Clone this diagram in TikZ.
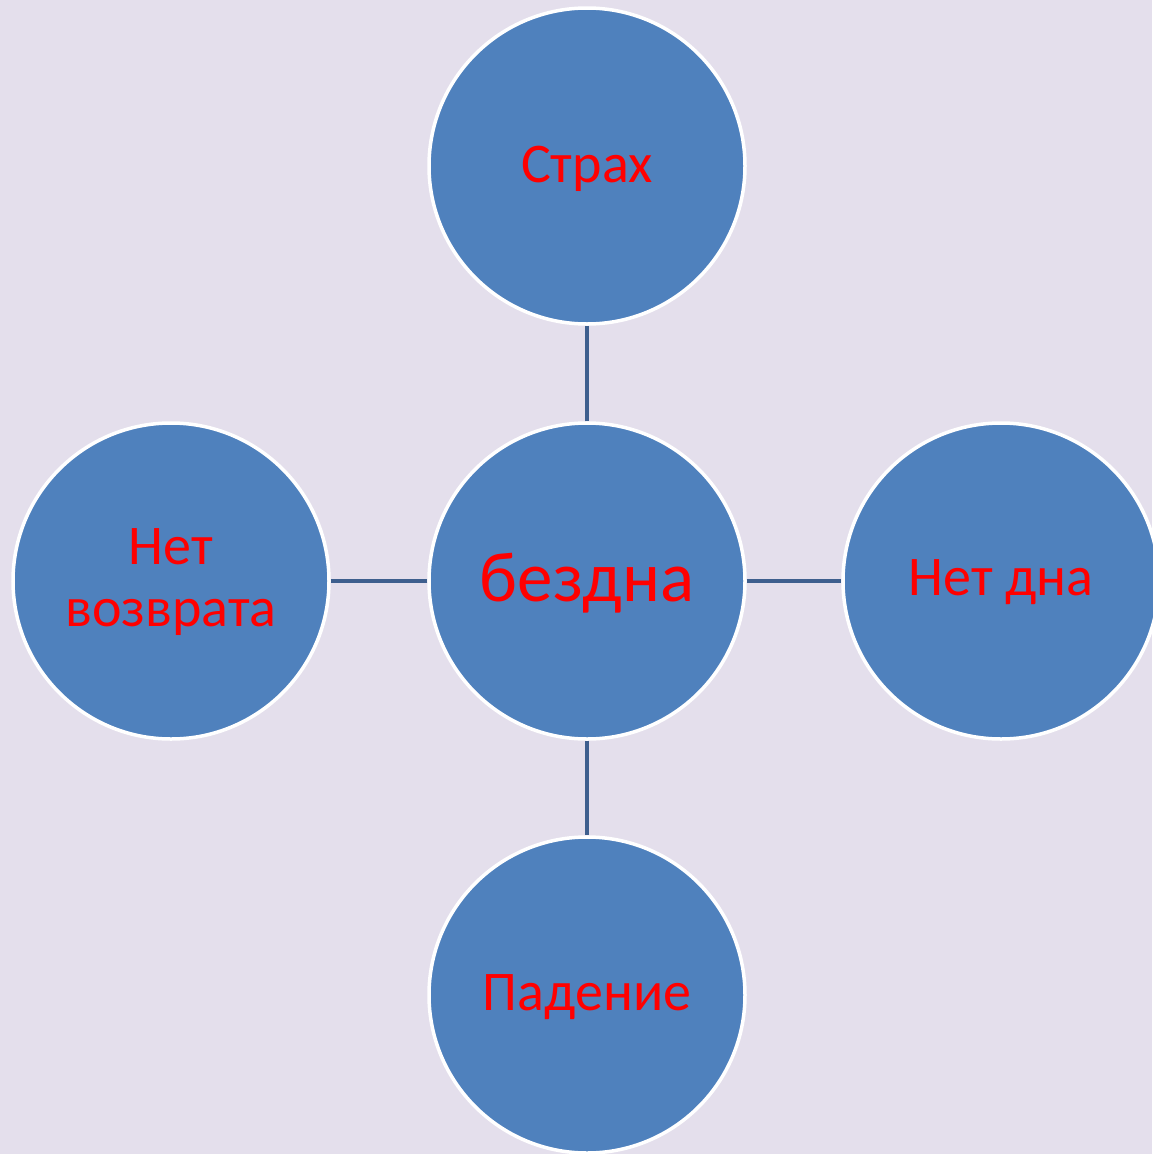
\documentclass[tikz,border=0pt]{standalone}
\usepackage{fontspec}
\setmainfont{Carlito}
\definecolor{bgcol}{HTML}{E4DFEC}
\definecolor{fillcol}{HTML}{4F81BD}
\definecolor{linkcol}{HTML}{3E5F8E}
\definecolor{txtcol}{HTML}{FF0000}
\tikzset{
  bubble/.style={circle, fill=fillcol, draw=white, line width=3.5pt, minimum size=316pt, inner sep=0pt, align=center, text=txtcol, font=\fontsize{56}{62}\selectfont},
  hub/.style={bubble, font=\fontsize{71}{80}\selectfont},
  label/.style={text=txtcol, align=center, font=\fontsize{56}{62}\selectfont},
  link/.style={draw=linkcol, line width=4.5pt}
}
\begin{document}
\begin{tikzpicture}[x=1pt,y=-1pt]
\useasboundingbox[fill=bgcol] (0,0) rectangle (1152,1154);
\node[hub] (c) at (587,581) {};
\node[bubble] (t) at (587,166) {};
\node[bubble] (b) at (587,995) {};
\node[bubble] (l) at (171,581) {};
\node[bubble] (r) at (1001,581) {};
\node[label, font=\fontsize{71}{80}\selectfont] (ct) at (587,583) {бездна};
\node[label] (tt) at (587,169) {Страх};
\node[label] (bt) at (587,997) {Падение};
\node[label] (lt) at (171,582) {Нет\\возврата};
\node[label] (rt) at (1001,582) {Нет дна};
\draw[link] (c.north) -- (t.south);
\draw[link] (c.south) -- (b.north);
\draw[link] (c.west) -- (l.east);
\draw[link] (c.east) -- (r.west);
\end{tikzpicture}
\end{document}
